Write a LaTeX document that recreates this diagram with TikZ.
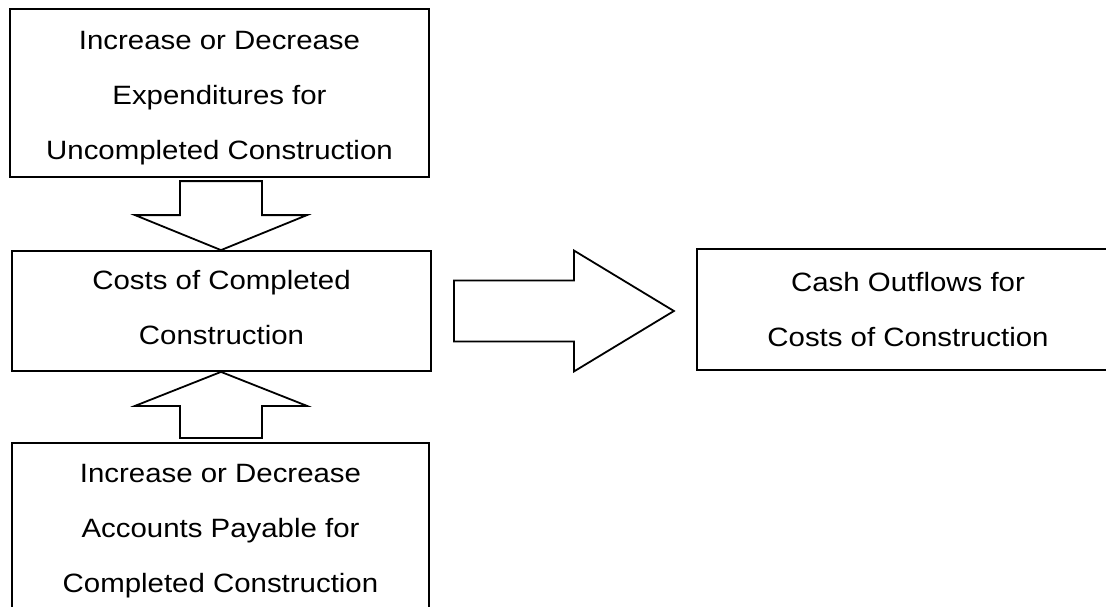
\documentclass[tikz,border=0pt]{standalone}
\usepackage{fontspec}
\setmainfont[FakeStretch=1.11]{Liberation Sans}
\usetikzlibrary{calc}
\begin{document}
\begin{tikzpicture}[x=1pt,y=-1pt,
  flowbox/.style={draw=black, line width=1.8pt, rectangle, inner sep=0pt},
  boxtext/.style={inner sep=0pt, align=center, font=\fontsize{26.5}{55}\selectfont},
  blockarrow/.style={draw=black, line width=1.8pt, fill=white, line join=miter}]
\useasboundingbox (0,0) rectangle (1106,607);
\clip (0,0) rectangle (1106,607);

% boxes
\node[flowbox, minimum width=419pt, minimum height=168pt] (top) at (219.5,93) {};
\node[flowbox, minimum width=419pt, minimum height=120pt] (mid) at (221.5,311) {};
\node[flowbox, minimum width=417pt, minimum height=168pt] (bot) at (220.5,527) {};
\node[flowbox, minimum width=422pt, minimum height=121pt] (out) at (908,309.5) {};

% box texts
\node[boxtext, yshift=-5.5pt] (toptext) at (top.center)
  {Increase or Decrease\\Expenditures for\\Uncompleted Construction};
\node[boxtext, yshift=3pt] (midtext) at (mid.center)
  {Costs of Completed\\Construction};
\node[boxtext, yshift=-4pt] (bottext) at (bot.center)
  {Increase or Decrease\\Accounts Payable for\\Completed Construction};
\node[boxtext] (outtext) at (out.center)
  {Cash Outflows for\\Costs of Construction};

% block arrow from the top box down to the middle box
\draw[blockarrow] ($(mid.north)+(-0.5,0)$) -- ++(-86,-35) -- ++(45,0) -- ++(0,-34)
  -- ++(82,0) -- ++(0,34) -- ++(45,0) -- cycle;
% block arrow from the bottom box up to the middle box
\draw[blockarrow] ($(mid.south)+(-0.5,0)$) -- ++(-86,34) -- ++(45,0) -- ++(0,32)
  -- ++(82,0) -- ++(0,-32) -- ++(45,0) -- cycle;
% block arrow from the middle box to the outflow box
\draw[blockarrow] ($(mid.east)+(22,-30.5)$) -- ++(120,0) -- ++(0,-30) -- ++(100,60.5)
  -- ++(-100,60.5) -- ++(0,-30) -- ++(-120,0) -- cycle;
\end{tikzpicture}
\end{document}
